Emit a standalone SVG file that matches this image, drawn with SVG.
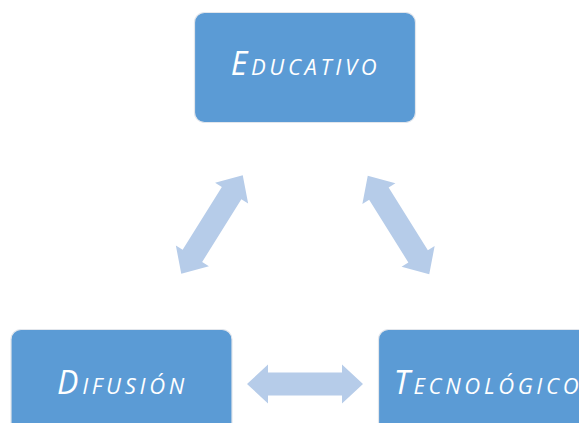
<svg xmlns="http://www.w3.org/2000/svg" width="579" height="423" viewBox="0 0 579 423">
<defs>
<style>
.box{fill:#5B9BD5;stroke:#E2E6EC;stroke-width:1.2}
.lbl{fill:#FFFFFF;font-family:"Open Sans","Liberation Sans",sans-serif;font-style:italic;font-variant:small-caps;font-size:32px;letter-spacing:3.7px;text-anchor:middle}
.arr{fill:#B6CCE9}
</style>
<path id="dbl" d="M-58,0 L-37,-19.5 L-37,-11.5 L37,-11.5 L37,-19.5 L58,0 L37,19.5 L37,11.5 L-37,11.5 L-37,19.5 Z"/>
</defs>
<rect width="579" height="423" fill="#FFFFFF"/>
<g id="connectors" class="arr">
<use href="#dbl" transform="translate(212,224.5) rotate(-58)"/>
<use href="#dbl" transform="translate(398.5,225) rotate(58)"/>
<use href="#dbl" transform="translate(305,384)"/>
</g>
<g id="educativo">
<rect class="box" x="194.5" y="12.5" width="221" height="110" rx="10"/>
<text class="lbl" x="305.5" y="75">Educativo</text>
</g>
<g id="difusion">
<rect class="box" x="11" y="329.5" width="221" height="110" rx="10"/>
<text class="lbl" x="122.5" y="394">Difusión</text>
</g>
<g id="tecnologico">
<rect class="box" x="378.5" y="329.5" width="221" height="110" rx="10"/>
<text class="lbl" x="488" y="394">Tecnológico</text>
</g>
</svg>
